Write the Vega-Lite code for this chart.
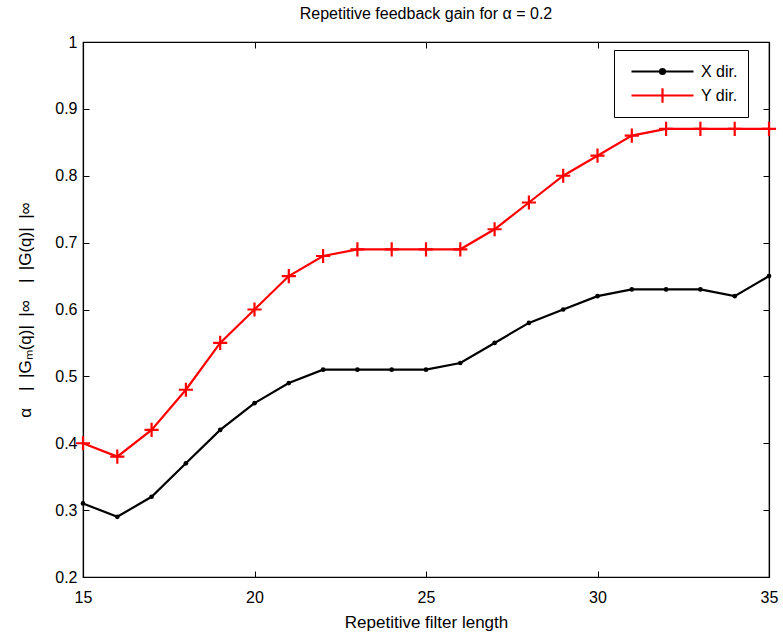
{
  "$schema": "https://vega.github.io/schema/vega-lite/v6.json",
  "autosize": {"type": "none"},
  "width": 686,
  "height": 535,
  "padding": {"left": 83, "top": 42, "right": 14, "bottom": 63},
  "background": "white",
  "title": {"text": "Repetitive feedback gain for α = 0.2", "font": "Liberation Sans", "fontSize": 16, "fontWeight": "normal", "color": "black", "offset": 12},
  "config": {
    "view": {"stroke": "black", "strokeWidth": 1.2},
    "font": "Liberation Sans",
    "axis": {"grid": false, "domainColor": "black", "tickColor": "black", "labelColor": "black", "titleColor": "black", "labelFont": "Liberation Sans", "titleFont": "Liberation Sans", "labelFontSize": 16, "titleFontSize": 17, "titleFontWeight": "normal", "tickSize": -6, "domainWidth": 1.2, "labelFlush": false}
  },
  "data": {"values": [
    {"series": "X dir.", "len": 15, "gain": 0.31},
    {"series": "X dir.", "len": 16, "gain": 0.29},
    {"series": "X dir.", "len": 17, "gain": 0.32},
    {"series": "X dir.", "len": 18, "gain": 0.37},
    {"series": "X dir.", "len": 19, "gain": 0.42},
    {"series": "X dir.", "len": 20, "gain": 0.46},
    {"series": "X dir.", "len": 21, "gain": 0.49},
    {"series": "X dir.", "len": 22, "gain": 0.51},
    {"series": "X dir.", "len": 23, "gain": 0.51},
    {"series": "X dir.", "len": 24, "gain": 0.51},
    {"series": "X dir.", "len": 25, "gain": 0.51},
    {"series": "X dir.", "len": 26, "gain": 0.52},
    {"series": "X dir.", "len": 27, "gain": 0.55},
    {"series": "X dir.", "len": 28, "gain": 0.58},
    {"series": "X dir.", "len": 29, "gain": 0.60},
    {"series": "X dir.", "len": 30, "gain": 0.62},
    {"series": "X dir.", "len": 31, "gain": 0.63},
    {"series": "X dir.", "len": 32, "gain": 0.63},
    {"series": "X dir.", "len": 33, "gain": 0.63},
    {"series": "X dir.", "len": 34, "gain": 0.62},
    {"series": "X dir.", "len": 35, "gain": 0.65},
    {"series": "Y dir.", "len": 15, "gain": 0.40},
    {"series": "Y dir.", "len": 16, "gain": 0.38},
    {"series": "Y dir.", "len": 17, "gain": 0.42},
    {"series": "Y dir.", "len": 18, "gain": 0.48},
    {"series": "Y dir.", "len": 19, "gain": 0.55},
    {"series": "Y dir.", "len": 20, "gain": 0.60},
    {"series": "Y dir.", "len": 21, "gain": 0.65},
    {"series": "Y dir.", "len": 22, "gain": 0.68},
    {"series": "Y dir.", "len": 23, "gain": 0.69},
    {"series": "Y dir.", "len": 24, "gain": 0.69},
    {"series": "Y dir.", "len": 25, "gain": 0.69},
    {"series": "Y dir.", "len": 26, "gain": 0.69},
    {"series": "Y dir.", "len": 27, "gain": 0.72},
    {"series": "Y dir.", "len": 28, "gain": 0.76},
    {"series": "Y dir.", "len": 29, "gain": 0.80},
    {"series": "Y dir.", "len": 30, "gain": 0.83},
    {"series": "Y dir.", "len": 31, "gain": 0.86},
    {"series": "Y dir.", "len": 32, "gain": 0.87},
    {"series": "Y dir.", "len": 33, "gain": 0.87},
    {"series": "Y dir.", "len": 34, "gain": 0.87},
    {"series": "Y dir.", "len": 35, "gain": 0.87}
  ]},
  "layer": [
    {
      "mark": {"type": "line", "strokeWidth": 2.2},
      "encoding": {
        "x": {"field": "len", "type": "quantitative", "scale": {"domain": [15, 35], "nice": false, "zero": false},
          "axis": {"values": [15, 20, 25, 30, 35], "title": "Repetitive filter length", "labelPadding": 18, "titlePadding": 9}},
        "y": {"field": "gain", "type": "quantitative", "scale": {"domain": [0.2, 1], "nice": false, "zero": false},
          "axis": {"values": [0.2, 0.3, 0.4, 0.5, 0.6, 0.7, 0.8, 0.9, 1], "format": ".1~f", "title": "α\u2002\u2002|\u2002|Gₘ(q)|\u2002|∞\u2002\u2002|\u2002|G(q)|\u2002|∞", "labelPadding": 12, "titlePadding": 20}},
        "color": {"field": "series", "type": "nominal", "scale": {"domain": ["X dir.", "Y dir."], "range": ["black", "red"]},
          "legend": {"title": null, "orient": "none", "legendX": 531, "legendY": 8, "strokeColor": "black", "fillColor": "white", "padding": 10,
            "labelFontSize": 16, "labelFont": "Liberation Sans", "labelColor": "black", "symbolSize": 3844, "symbolOffset": 6, "labelOffset": 6, "rowPadding": 1, "clipHeight": 23,
            "symbolType": "M-1,0H1",
            "encode": {"symbols": {"update": {
              "shape": {"signal": "datum.value === 'X dir.' ? 'M-1,0H1M-0.08,0A0.08,0.08 0 1,0 0.08,0A0.08,0.08 0 1,0 -0.08,0' : 'M-1,0H1M0,-0.23V0.23M-0.23,0H0.23'"},
              "fill": {"signal": "datum.value === 'X dir.' ? 'black' : 'transparent'"},
              "strokeWidth": {"value": 2.2}
            }}}}}
      }
    },
    {
      "transform": [{"filter": "datum.series === 'X dir.'"}],
      "mark": {"type": "point", "shape": "circle", "filled": true, "size": 22, "color": "black", "opacity": 1},
      "encoding": {
        "x": {"field": "len", "type": "quantitative", "axis": null},
        "y": {"field": "gain", "type": "quantitative", "axis": null}
      }
    },
    {
      "transform": [{"filter": "datum.series === 'Y dir.'"}],
      "mark": {"type": "point", "shape": "M-1,0H1M0,-1V1", "filled": false, "size": 200, "color": "red", "strokeWidth": 2.2, "opacity": 1},
      "encoding": {
        "x": {"field": "len", "type": "quantitative", "axis": null},
        "y": {"field": "gain", "type": "quantitative", "axis": null}
      }
    },
    {
      "mark": {"type": "point", "opacity": 0},
      "encoding": {
        "x": {"field": "len", "type": "quantitative", "axis": {"orient": "top", "values": [15, 20, 25, 30, 35], "labels": false, "title": null}},
        "y": {"field": "gain", "type": "quantitative", "axis": {"orient": "right", "values": [0.2, 0.3, 0.4, 0.5, 0.6, 0.7, 0.8, 0.9, 1], "labels": false, "title": null}}
      }
    }
  ],
  "resolve": {"axis": {"x": "independent", "y": "independent"}}
}
